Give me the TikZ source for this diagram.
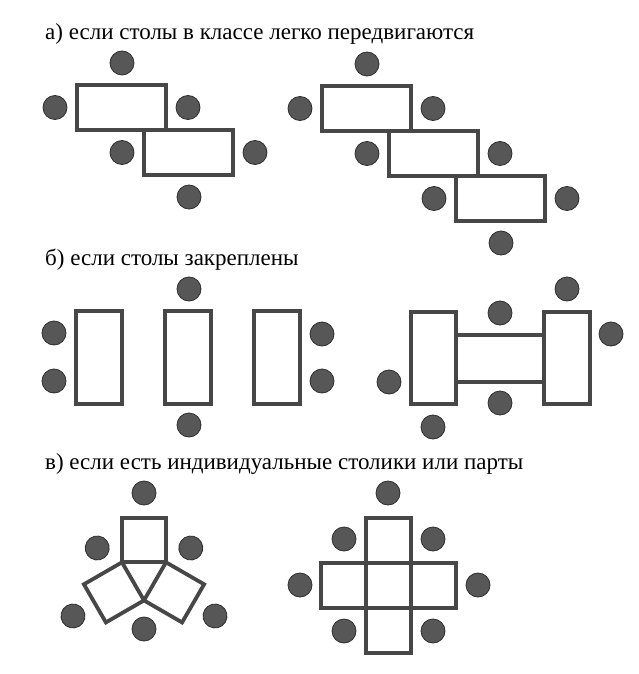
\documentclass[tikz,border=0pt]{standalone}
\usepackage{fontspec}
\setmainfont{Liberation Serif}
\usepackage{tikz}

\begin{document}
\begin{tikzpicture}[x=1pt,y=-1pt,
    desk/.style={draw=black!72, line width=3.8pt},
    chair/.style={fill=black!66, draw=black!82, line width=0.8pt},
    caption/.style={anchor=base west, inner sep=0pt, font=\fontsize{23}{27}\selectfont}]
          \useasboundingbox (0,0) rectangle (638,674);

          % a)
          \node[caption] (capA) at (45,40) {а) если столы в классе легко передвигаются};
          \foreach \x/\y/\n in {77/85/2,322/86/3} {
            \foreach \i in {1,...,\n} {
              \begin{scope}[shift={({\x+67*(\i-1)},{\y+45*(\i-1)})}]
                \draw[desk] (0,0) rectangle (89,45);
                \fill[chair] (-22,22.5) circle (12pt);
                \fill[chair] (111,22.5) circle (12pt);
              \end{scope}
            }
            \fill[chair] (\x+45,\y-22) circle (12pt);
            \fill[chair] ({\x+45+67*(\n-1)},{\y+45*\n+22}) circle (12pt);
          }

          % b)
          \node[caption] (capB) at (45,265) {б) если столы закреплены};
          \foreach \x in {76,165,254} {
            \draw[desk] (\x,311) rectangle +(46,93);
          }
          \foreach \x/\y in {54/333,54/381,189/289,189/425,322/334,322/381} {
            \fill[chair] (\x,\y) circle (12pt);
          }
          \draw[desk] (456,335) rectangle (544,382);
          \draw[desk] (411,312) rectangle (456,404);
          \draw[desk] (544,312) rectangle (590,404);
          \foreach \x/\y in {500/313,567/289,611/334,389/382,500/403,433/427} {
            \fill[chair] (\x,\y) circle (12pt);
          }

          % c)
          \node[caption] (capC) at (45,469) {в) если есть индивидуальные столики или парты};
          \foreach \a in {0,120,240} {
            \begin{scope}[rotate around={\a:(144,575)}]
              \draw[desk, line join=miter] (122,562.3) rectangle (166,518.3);
              \fill[chair] (144,493) circle (12pt);
              \fill[chair] (144,629) circle (12pt);
            \end{scope}
          }
          \foreach \dx/\dy in {0/0,0/-45,0/45,-45/0,45/0} {
            \draw[desk] (366+\dx,563+\dy) rectangle +(45,45);
          }
          \foreach \x/\y in {388/493,344/539,433/539,300/585,478/585,344/631,433/631} {
            \fill[chair] (\x,\y) circle (12pt);
          }
        \end{tikzpicture}
\end{document}
